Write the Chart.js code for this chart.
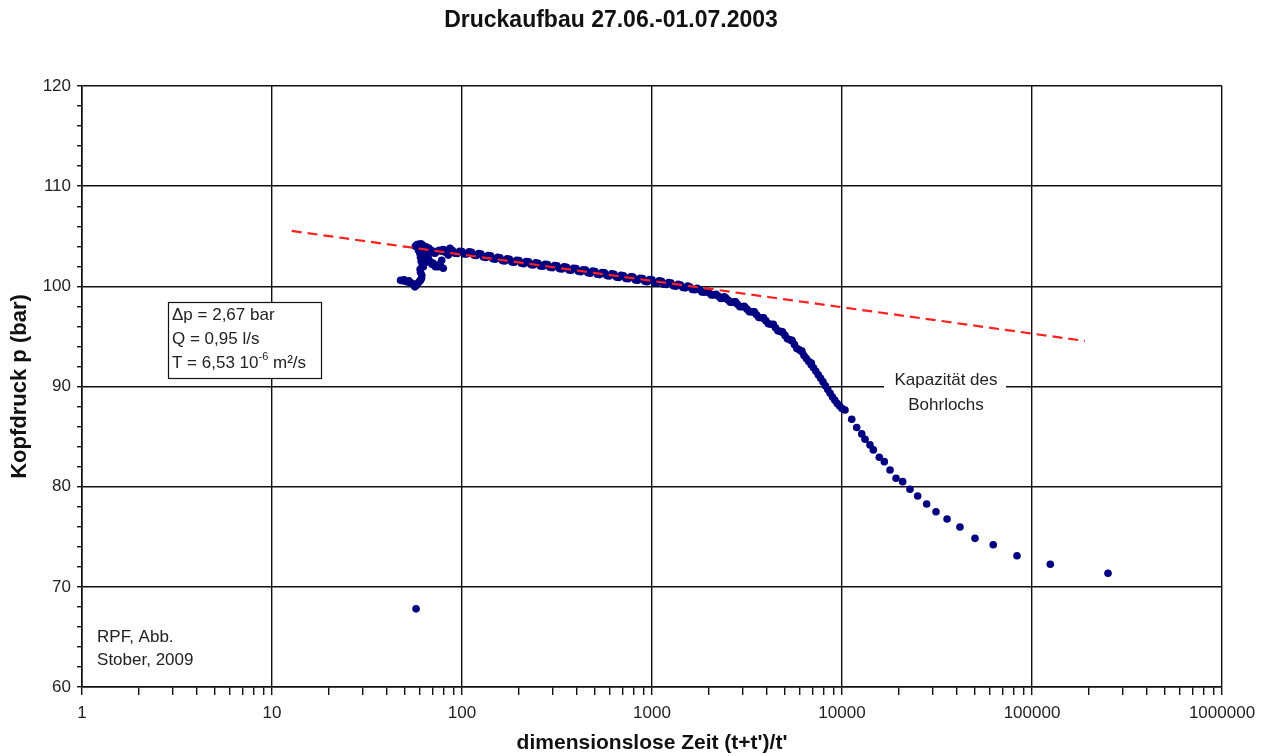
<!DOCTYPE html>
<html lang="de">
<head>
<meta charset="UTF-8">
<title>Druckaufbau 27.06.-01.07.2003</title>
<style>
  html, body { margin: 0; padding: 0; background: #fff; }
  #wrap { width: 1268px; height: 756px; }
</style>
</head>
<body>
<div id="wrap"><canvas id="horner"></canvas></div>
<script src="https://cdn.jsdelivr.net/npm/chart.js"></script>
<script>
// Horner-Auswertung: Kopfdruck gegen dimensionslose Zeit (t+t')/t'

// Anlaufphase (streuende Werte)
const startX = [47.5, 48.5, 49.5, 50.5, 51.5, 52.5, 53.5, 54.5, 55.5, 56.5, 57.5, 58.5, 59.5, 60.5, 61.2, 61.4, 60.5, 60.2,
  56.8, 57.8, 58.8, 59.8, 60.8, 61.8, 63, 64.2, 65.2,
  59, 60, 60.5, 61, 61.8, 62.6, 63.5, 64.5, 65.5, 66.5, 67.5, 68.5, 69.5, 70.6, 71.5, 72.5, 73.5, 75, 76.5, 78.2, 79.7, 77,
  62.5, 63.5, 66, 68, 70, 72.1, 74, 76, 78, 81.4, 84.7, 86.5, 67, 69];
const startY = [100.6, 100.55, 100.65, 100.5, 100.45, 100.55, 100.35, 100.3, 100.15, 99.95, 100.1, 100.3, 100.45, 100.6, 100.8, 101.1, 101.4, 101.7,
  104.0, 104.15, 104.2, 104.1, 104.25, 104.15, 104.0, 103.95, 103.9,
  103.6, 103.3, 102.9, 102.5, 102.2, 101.95, 102.3, 102.7, 103.1, 102.8, 102.5, 102.4, 102.2, 102.3, 102.1, 101.95, 102.0, 101.95, 102.2, 102.6, 101.8, 102.0,
  103.5, 103.2, 103.5, 103.4, 103.35, 103.3, 103.5, 103.6, 103.5, 103.6, 103.12, 103.8, 103.8, 103.6];

// Hauptast
const mainX = [79.4, 84.1, 89.1, 94.4, 100, 105.9, 112.2, 118.9, 125.9, 133.4, 141.3, 149.6, 158.5, 167.9, 177.8, 188.4,
  199.5, 211.3, 223.9, 237.1, 251.2, 266.1, 281.8, 298.5, 316.2, 335, 354.8, 375.8, 398.1, 421.7, 446.7, 473.2,
  501.2, 530.9, 562.3, 595.7, 631, 668.3, 707.9, 749.9, 794.3, 841.4, 891.3, 944.1, 1000, 1059, 1122, 1189,
  1259, 1334, 1413, 1496, 1585, 1679, 1778, 1884, 1995, 2113, 2239, 2371, 2512, 2661, 2818, 2985,
  3162, 3350, 3548, 3758, 3981, 4217, 4467, 4732, 5012, 5309, 5623, 5957, 6310, 6683, 7079, 7499,
  7943, 8414, 8913, 9441, 10000,
  2400, 2750, 3050, 3450, 3850, 4350, 4850, 5450, 6150, 6900];
const mainY = [103.67, 103.38, 103.57, 103.28, 103.47, 103.23, 103.40, 103.08, 103.22, 102.88, 103.04, 102.70, 102.84, 102.53, 102.70, 102.40,
  102.57, 102.26, 102.44, 102.13, 102.30, 102.00, 102.17, 101.86, 102.04, 101.73, 101.90, 101.60, 101.77, 101.46, 101.62, 101.31,
  101.48, 101.17, 101.34, 101.03, 101.20, 100.88, 101.06, 100.75, 100.92, 100.60, 100.77, 100.46, 100.64, 100.33, 100.50, 100.18,
  100.34, 100.01, 100.14, 99.85, 99.93, 99.66, 99.68, 99.42, 99.36, 99.14, 99.00, 98.82, 98.63, 98.42, 98.20, 97.96,
  97.72, 97.45, 97.17, 96.87, 96.55, 96.22, 95.87, 95.50, 95.10, 94.66, 94.18, 93.66, 93.10, 92.50, 91.86, 91.18,
  90.46, 89.70, 88.95, 88.30, 87.80,
  98.95, 98.45, 98.0, 97.45, 96.85, 96.2, 95.45, 94.6, 93.55, 92.35];

// Zwischenwerte des Hauptasts
const midX = [81.7, 86.6, 91.7, 97.2, 102.9, 109.0, 115.5, 122.3, 129.6, 137.3, 145.4, 154.0, 163.1, 172.8, 183.0, 193.9,
  205.4, 217.6, 230.5, 244.1, 258.5, 273.8, 290.1, 307.3, 325.5, 344.7, 365.2, 386.8, 409.7, 434.0, 459.8, 487.0,
  515.8, 546.4, 578.8, 613.1, 649.4, 687.9, 728.8, 771.9, 817.6, 866.0, 917.3, 971.6, 1029, 1090, 1155, 1223,
  1296, 1373, 1454, 1540, 1631, 1728, 1830, 1939, 2054, 2175, 2304, 2441, 2585, 2738, 2900, 3073,
  3255, 3447, 3652, 3868, 4097, 4340, 4597, 4870, 5158, 5464, 5788, 6131, 6494, 6879, 7286, 7718,
  8175, 8660, 9173, 9716];
const midY = [103.41, 103.60, 103.31, 103.50, 103.23, 103.44, 103.12, 103.27, 102.93, 103.08, 102.75, 102.89, 102.57, 102.74, 102.43, 102.61,
  102.30, 102.47, 102.17, 102.34, 102.03, 102.21, 101.90, 102.07, 101.77, 101.94, 101.63, 101.81, 101.50, 101.66, 101.35, 101.52,
  101.21, 101.38, 101.07, 101.24, 100.92, 101.09, 100.79, 100.96, 100.64, 100.81, 100.50, 100.67, 100.37, 100.54, 100.22, 100.38,
  100.06, 100.21, 99.88, 100.02, 99.68, 99.80, 99.43, 99.53, 99.13, 99.21, 98.79, 98.85, 98.41, 98.43, 97.96, 97.96,
  97.47, 97.43, 96.90, 96.83, 96.27, 96.17, 95.57, 95.42, 94.76, 94.54, 93.80, 93.50, 92.80, 92.18, 91.52, 90.82,
  90.08, 89.33, 88.62, 88.05];

// späte Werte und Ausreißer
const tailX = [10370, 11250, 11950, 12700, 13220, 14040, 14620, 15710, 16700, 17900, 19250, 20860,
  22790, 25020, 27900, 31240, 35730, 41770, 50120, 62520, 83370, 124800, 251200, 57.3];
const tailY = [87.66, 86.73, 85.9, 85.27, 84.74, 84.17, 83.67, 82.94, 82.5, 81.67, 80.84, 80.5,
  79.74, 79.07, 78.27, 77.5, 76.77, 75.97, 74.84, 74.2, 73.1, 72.26, 71.36, 67.8];

// Ausgleichsgerade (semilog)
const fitX = [12.7, 190000];
const fitY = [105.53, 94.55];

const decades = [1, 10, 100, 1000, 10000, 100000, 1000000];
const subSteps = [1, 2, 3, 4, 5, 6, 7, 8, 9];
const xTicks = [];
decades.forEach(d => subSteps.forEach(s => { if (d * s <= 1000000) xTicks.push(d * s); }));

const paramLines = ['\u0394p = 2,67 bar', 'Q = 0,95 l/s'];
const noteLines = ['Kapazität des', 'Bohrlochs'];
const sourceLines = ['RPF, Abb.', 'Stober, 2009'];

const FONT = '"Liberation Sans", Arial, Helvetica, sans-serif';
const ink = '#222';

function pts(xs, ys) { return xs.map((v, i) => ({ x: v, y: ys[i] })); }
const isDecade = v => Math.abs(Math.log10(v) - Math.round(Math.log10(v))) < 1e-9;

const notes = {
  id: 'notes',
  afterDraw(chart) {
    const { ctx, scales: { x, y } } = chart;
    ctx.save();
    ctx.textBaseline = 'middle';

    // Kasten mit Kennwerten
    const bx = Math.round(x.getPixelForValue(2.84)), by = Math.round(y.getPixelForValue(98.42));
    ctx.fillStyle = '#fff';
    ctx.fillRect(bx, by, 153, 76);
    ctx.strokeStyle = '#111';
    ctx.lineWidth = 1.2;
    ctx.strokeRect(bx + 0.5, by + 0.5, 153, 76);
    ctx.fillStyle = ink;
    ctx.font = '17px ' + FONT;
    paramLines.forEach((t, i) => ctx.fillText(t, bx + 4, by + 13 + i * 24));
    let tx = bx + 4;
    const ty = by + 61;
    ctx.fillText('T = 6,53 10', tx, ty);
    tx += ctx.measureText('T = 6,53 10').width;
    ctx.font = '11px ' + FONT;
    ctx.fillText('-6', tx, ty - 6);
    tx += ctx.measureText('-6').width;
    ctx.font = '17px ' + FONT;
    ctx.fillText(' m²/s', tx, ty);

    // Beschriftung Kapazität
    const cx = x.getPixelForValue(32800);
    const cy = y.getPixelForValue(90.66);
    ctx.fillStyle = '#fff';
    ctx.fillRect(cx - 56, cy - 10, 122, 20);
    ctx.fillStyle = ink;
    ctx.textAlign = 'center';
    ctx.fillText(noteLines[0], cx + 6, cy);
    ctx.fillText(noteLines[1], cx + 6, y.getPixelForValue(88.16));

    // Quelle
    ctx.textAlign = 'left';
    const sx = x.getPixelForValue(1.2);
    ctx.fillText(sourceLines[0], sx, y.getPixelForValue(65.0));
    ctx.fillText(sourceLines[1], sx, y.getPixelForValue(62.7));
    ctx.restore();
  }
};

new Chart(document.getElementById('horner'), {
  type: 'scatter',
  data: {
    datasets: [
      {
        type: 'line',
        data: pts(fitX, fitY),
        borderColor: '#ff2020',
        borderWidth: 2.2,
        borderDash: [10, 6],
        pointRadius: 0,
        fill: false,
        order: 0
      },
      {
        data: pts(startX, startY).concat(pts(mainX, mainY), pts(midX, midY), pts(tailX, tailY)),
        backgroundColor: '#000080',
        borderWidth: 0,
        pointRadius: 3.8,
        order: 1
      }
    ]
  },
  options: {
    responsive: true,
    maintainAspectRatio: false,
    devicePixelRatio: 1,
    animation: false,
    layout: { padding: { right: 46 } },
    plugins: {
      legend: { display: false },
      tooltip: { enabled: false },
      title: {
        display: true,
        text: 'Druckaufbau 27.06.-01.07.2003',
        color: '#111',
        font: { family: FONT, size: 23, weight: 'bold' },
        padding: { top: 7, bottom: 51.4 }
      }
    },
    scales: {
      x: {
        type: 'logarithmic',
        min: 1,
        max: 1000000,
        afterBuildTicks: s => { s.ticks = xTicks.map(v => ({ value: v })); },
        afterFit: s => { s.height = 69; },
        ticks: {
          autoSkip: false,
          maxRotation: 0,
          padding: 8,
          color: ink,
          font: { family: FONT, size: 17 },
          callback: v => isDecade(v) ? String(v) : ''
        },
        grid: {
          color: c => isDecade(c.tick.value) ? '#111' : 'rgba(0,0,0,0)',
          tickColor: '#111',
          tickLength: 8,
          lineWidth: 1.4
        },
        border: { color: '#111', width: 1.6 },
        title: {
          display: true,
          text: "dimensionslose Zeit (t+t')/t'",
          color: '#111',
          font: { family: FONT, size: 21, weight: 'bold' },
          padding: { top: 0, bottom: 0 }
        }
      },
      y: {
        min: 60,
        max: 120,
        afterFit: s => { s.width = 82; },
        ticks: {
          stepSize: 2,
          autoSkip: false,
          padding: 6,
          color: ink,
          font: { family: FONT, size: 17 },
          callback: v => v % 10 === 0 ? String(v) : ''
        },
        grid: {
          color: c => c.tick.value % 10 === 0 ? '#111' : 'rgba(0,0,0,0)',
          tickColor: '#111',
          tickLength: 5,
          lineWidth: 1.4
        },
        border: { color: '#111', width: 1.6 },
        title: {
          display: true,
          text: 'Kopfdruck p (bar)',
          color: '#111',
          font: { family: FONT, size: 22, weight: 'bold' },
          padding: { top: 7, bottom: 0 }
        }
      }
    }
  },
  plugins: [notes]
});
</script>
</body>
</html>
